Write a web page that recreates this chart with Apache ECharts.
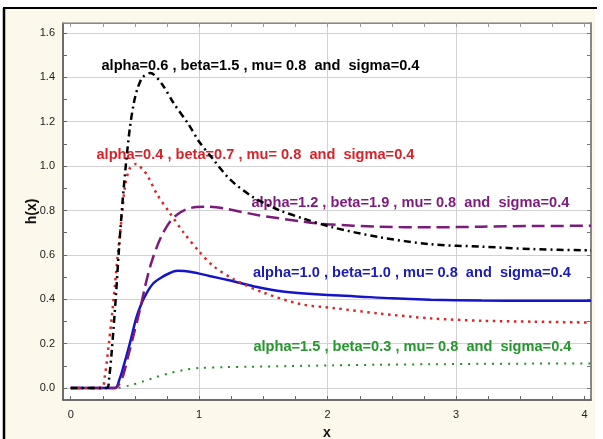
<!DOCTYPE html>
<html>
<head>
<meta charset="utf-8">
<script src="https://cdn.jsdelivr.net/npm/echarts@6/dist/echarts.min.js"></script>
<style>
  html, body { margin: 0; padding: 0; background: #fff; }
  #chart { width: 603px; height: 439px; }
</style>
</head>
<body>
<div id="chart"></div>
<script>
// tick values / labels
const xLabelValues = [0, 1, 2, 3, 4];
const xTickValues = [0, 0.25, 0.5, 0.75, 1, 1.25, 1.5, 1.75, 2, 2.25, 2.5, 2.75, 3, 3.25, 3.5, 3.75, 4];
const xGridValues = [1, 2, 3];
const yLabelValues = [0, 0.2, 0.4, 0.6, 0.8, 1.0, 1.2, 1.4, 1.6];
const yTickValues = [0, 0.1, 0.2, 0.3, 0.4, 0.5, 0.6, 0.7, 0.8, 0.9, 1.0, 1.1, 1.2, 1.3, 1.4, 1.5, 1.6];
const yGridValues = [0, 0.2, 0.4, 0.6, 0.8, 1.0, 1.2, 1.4, 1.6];

// alpha=0.6, beta=1.5
const blackX = [0, 0.28, 0.30, 0.32, 0.35, 0.375, 0.405, 0.43, 0.46, 0.49, 0.52, 0.56, 0.62, 0.71, 0.80, 0.915, 1.0, 1.11, 1.24, 1.42, 1.63, 1.81, 2.04, 2.4, 2.8, 3.2, 3.6, 4.05];
const blackY = [0, 0, 0.05, 0.17, 0.40, 0.62, 0.85, 1.01, 1.17, 1.28, 1.35, 1.40, 1.42, 1.37, 1.285, 1.19, 1.11, 1.03, 0.94, 0.86, 0.80, 0.764, 0.724, 0.68, 0.648, 0.637, 0.626, 0.62];
// alpha=0.4, beta=0.7
const redX = [0, 0.24, 0.265, 0.295, 0.32, 0.345, 0.37, 0.397, 0.423, 0.46, 0.51, 0.56, 0.60, 0.67, 0.77, 0.88, 1.0, 1.11, 1.27, 1.5, 1.79, 2.05, 2.4, 2.8, 3.2, 3.6, 4.05];
const redY = [0, 0, 0.05, 0.19, 0.32, 0.47, 0.62, 0.77, 0.91, 0.99, 1.01, 0.985, 0.955, 0.875, 0.79, 0.70, 0.615, 0.55, 0.49, 0.43, 0.378, 0.36, 0.336, 0.314, 0.303, 0.299, 0.295];
// alpha=1.2, beta=1.9
const purpleX = [0, 0.345, 0.38, 0.41, 0.45, 0.49, 0.54, 0.58, 0.62, 0.67, 0.72, 0.78, 0.83, 0.9, 0.98, 1.06, 1.19, 1.45, 1.81, 2.0, 2.4, 2.8, 3.2, 3.6, 4.05];
const purpleY = [0, 0, 0.02, 0.06, 0.15, 0.24, 0.355, 0.46, 0.55, 0.635, 0.70, 0.755, 0.782, 0.805, 0.816, 0.817, 0.81, 0.78, 0.75, 0.738, 0.727, 0.724, 0.727, 0.73, 0.731];
// alpha=1.0, beta=1.0
const blueX = [0, 0.345, 0.38, 0.41, 0.46, 0.51, 0.55, 0.59, 0.64, 0.70, 0.76, 0.83, 0.93, 1.08, 1.25, 1.45, 1.65, 1.94, 2.2, 2.5, 2.8, 3.2, 3.6, 4.05];
const blueY = [0, 0, 0.04, 0.095, 0.20, 0.315, 0.38, 0.427, 0.47, 0.496, 0.515, 0.528, 0.524, 0.505, 0.483, 0.455, 0.435, 0.421, 0.414, 0.404, 0.398, 0.394, 0.393, 0.393];
// alpha=1.5, beta=0.3
const greenX = [0, 0.345, 0.46, 0.565, 0.67, 0.78, 0.88, 1.0, 1.2, 1.4, 1.7, 2.04, 2.4, 2.8, 3.2, 3.6, 4.05];
const greenY = [0, 0, 0.012, 0.03, 0.05, 0.068, 0.081, 0.09, 0.094, 0.096, 0.099, 0.102, 0.105, 0.107, 0.109, 0.11, 0.111];

const labelTexts = [
  'alpha=0.6 , beta=1.5 , mu= 0.8  and  sigma=0.4',
  'alpha=0.4 , beta=0.7 , mu= 0.8  and  sigma=0.4',
  'alpha=1.2 , beta=1.9 , mu= 0.8  and  sigma=0.4',
  'alpha=1.0 , beta=1.0 , mu= 0.8  and  sigma=0.4',
  'alpha=1.5 , beta=0.3 , mu= 0.8  and  sigma=0.4'
];
const labelX = [1.477, 1.438, 2.644, 2.656, 2.66];
const labelY = [1.45, 1.05, 0.835, 0.517, 0.186];

const FONT = '"Liberation Sans", Arial, sans-serif';

const pairs = (xs, ys) => xs.map((x, i) => [x, ys[i]]);

const chart = echarts.init(document.getElementById('chart'));

const styles = [
  { x: blackX, y: blackY, color: '#000000', text: '#000000', type: [7, 4, 2, 4], width: 2.5 },
  { x: redX, y: redY, color: '#d42a2a', text: '#d8222a', type: [2.5, 4.5], width: 2.5 },
  { x: purpleX, y: purpleY, color: '#7d1a7d', text: '#7d1a7d', type: [13, 6], width: 2.5 },
  { x: blueX, y: blueY, color: '#1414c8', text: '#1c1cb4', type: 'solid', width: 2.5 },
  { x: greenX, y: greenY, color: '#2a8a2a', text: '#26962e', type: [2, 6], width: 2 }
];

const series = styles.map((s, i) => ({
  type: 'line',
  data: pairs(s.x, s.y),
  showSymbol: false,
  smooth: 0.3,
  lineStyle: { color: s.color, width: s.width, type: s.type },
  z: 10 - i,
  markPoint: {
    symbol: 'rect',
    symbolSize: 1,
    itemStyle: { color: 'rgba(0,0,0,0)' },
    label: {
      show: true,
      position: 'inside',
      formatter: labelTexts[i],
      color: s.text,
      fontWeight: 'bold',
      fontSize: 14.6,
      fontFamily: FONT
    },
    data: [{ coord: [labelX[i], labelY[i]] }]
  }
}));

const xBase = { type: 'value', min: -0.06, max: 4.05, gridIndex: 0 };
const yBase = { type: 'value', min: -0.054, max: 1.645, gridIndex: 0 };

chart.setOption({
  backgroundColor: '#ffffff',
  animation: false,
  graphic: [
    { type: 'rect', z: -10, shape: { x: 5, y: 9, width: 590, height: 430 }, style: { fill: '#fcf8ec' } },
    { type: 'line', z: -9, shape: { x1: 3, y1: 8, x2: 597, y2: 8 }, style: { stroke: '#000', lineWidth: 2 } },
    { type: 'line', z: -9, shape: { x1: 4, y1: 8, x2: 4, y2: 439 }, style: { stroke: '#000', lineWidth: 2.5 } }
  ],
  grid: {
    show: true,
    left: 63, top: 23, right: 12, bottom: 39,
    outerBoundsMode: 'none',
    containLabel: false,
    backgroundColor: '#ffffff',
    borderColor: '#777',
    borderWidth: 1
  },
  xAxis: [
    Object.assign({}, xBase, {
      position: 'bottom',
      name: 'x',
      nameLocation: 'middle',
      nameGap: 26,
      nameMoveOverlap: false,
      nameTextStyle: { fontFamily: FONT, fontWeight: 'bold', fontSize: 14, color: '#111' },
      axisLine: { show: true, onZero: false, lineStyle: { color: '#555', width: 1.5 } },
      axisTick: { show: true, inside: true, length: 4, customValues: xTickValues, lineStyle: { color: '#666' } },
      axisLabel: { customValues: xLabelValues, formatter: v => String(v), color: '#222', fontSize: 11, fontFamily: FONT, margin: 9 },
      splitLine: { show: false }
    }),
    Object.assign({}, xBase, {
      position: 'top',
      axisLine: { show: true, onZero: false, lineStyle: { color: '#888', width: 1 } },
      axisTick: { show: true, inside: true, length: 4, customValues: xTickValues, lineStyle: { color: '#999' } },
      axisLabel: { show: false },
      splitLine: { show: false }
    }),
    Object.assign({}, xBase, {
      position: 'bottom',
      axisLine: { show: false, onZero: false },
      axisTick: { show: false, customValues: xGridValues },
      axisLabel: { show: false },
      splitLine: { show: true, lineStyle: { color: '#d2d2d2', width: 1 } }
    })
  ],
  yAxis: [
    Object.assign({}, yBase, {
      position: 'left',
      name: 'h(x)',
      nameLocation: 'middle',
      nameRotate: 90,
      nameGap: 24,
      nameMoveOverlap: false,
      nameTextStyle: { fontFamily: FONT, fontWeight: 'bold', fontSize: 14, color: '#111' },
      axisLine: { show: true, onZero: false, lineStyle: { color: '#555', width: 1.5 } },
      axisTick: { show: true, inside: true, length: 4, customValues: yTickValues, lineStyle: { color: '#666' } },
      axisLabel: { customValues: yLabelValues, formatter: v => v.toFixed(1), color: '#222', fontSize: 11, fontFamily: FONT, margin: 8 },
      splitLine: { show: false }
    }),
    Object.assign({}, yBase, {
      position: 'right',
      axisLine: { show: true, onZero: false, lineStyle: { color: '#888', width: 2 } },
      axisTick: { show: true, inside: true, length: 4, customValues: yTickValues, lineStyle: { color: '#777' } },
      axisLabel: { show: false },
      splitLine: { show: false }
    }),
    Object.assign({}, yBase, {
      position: 'left',
      axisLine: { show: false, onZero: false },
      axisTick: { show: false, customValues: yGridValues },
      axisLabel: { show: false },
      splitLine: { show: true, lineStyle: { color: '#d2d2d2', width: 1 } }
    })
  ],
  series: series
});
</script>
</body>
</html>
